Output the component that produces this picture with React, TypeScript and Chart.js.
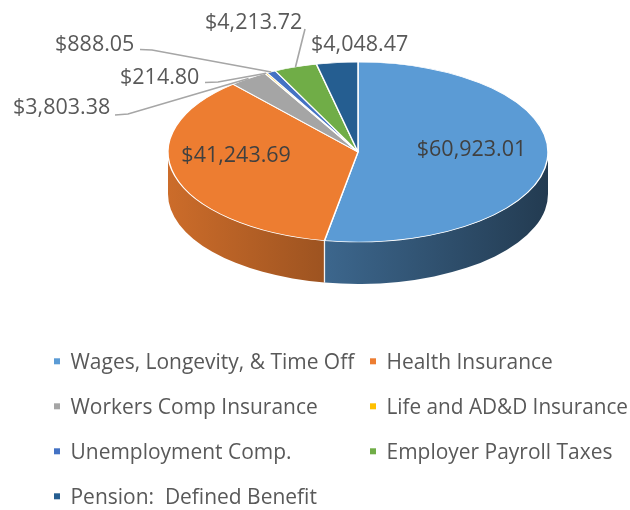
import React, { useEffect, useRef } from "react";
import { Chart, registerables } from "chart.js";

Chart.register(...registerables);

// ---- data ----
const categories = [
  "Wages, Longevity, & Time Off",
  "Health Insurance",
  "Workers Comp Insurance",
  "Life and AD&D Insurance",
  "Unemployment Comp.",
  "Employer Payroll Taxes",
  "Pension:  Defined Benefit",
];
const costs = [60923.01, 41243.69, 3803.38, 214.8, 888.05, 4213.72, 4048.47];
const sliceColors = ["#5B9BD5", "#ED7D31", "#A5A5A5", "#FFC000", "#4472C4", "#70AD47", "#255E91"];

// ---- layout / style ----
const FONT = '"Open Sans", "Noto Sans", sans-serif';
const PIE = { cx: 358, cy: 152, rx: 190, ry: 90, depth: 42 };

type Placement =
  | { kind: "inside"; f: number; dx: number; dy: number }
  | { kind: "outside"; x: number; y: number; leader: number[][] | null };

const placements: Placement[] = [
  { kind: "inside", f: 0.6, dx: 0, dy: -0.5 },
  { kind: "inside", f: 0.6, dx: -12, dy: -4.5 },
  { kind: "outside", x: 13, y: 113.5, leader: [[115, 115], [128, 114]] },
  { kind: "outside", x: 120, y: 83.5, leader: [[205, 82.5], [218, 82]] },
  { kind: "outside", x: 55, y: 51, leader: [[140, 49.5], [152, 50]] },
  { kind: "outside", x: 205, y: 29, leader: [[305, 29]] },
  { kind: "outside", x: 311, y: 51, leader: null },
];

const LEGEND = { cols: [54, 370], row0: 369, gap: 45, textDx: 16.5, marker: 6, condense: 0.975 };

function shade(hex: string, k: number) {
  const n = parseInt(hex.slice(1), 16);
  const r = Math.round(((n >> 16) & 255) * k);
  const g = Math.round(((n >> 8) & 255) * k);
  const b = Math.round((n & 255) * k);
  return `rgb(${r},${g},${b})`;
}

function fmt(v: number) {
  return "$" + v.toLocaleString("en-US", { minimumFractionDigits: 2, maximumFractionDigits: 2 });
}

const pie3d = {
  id: "pie3d",
  beforeDatasetsDraw(chart: any) {
    const ctx: CanvasRenderingContext2D = chart.ctx;
    const arcs = chart.getDatasetMeta(0).data as any[];
    if (!arcs.length) return;
    const { cx, cy, rx, ry, depth } = PIE;
    // side walls
    arcs.forEach((arc, i) => {
      const s = Math.max(arc.startAngle, 0);
      const e = Math.min(arc.endAngle, Math.PI);
      if (e <= s) return;
      const g = ctx.createLinearGradient(cx - rx, 0, cx + rx, 0);
      g.addColorStop(0, shade(sliceColors[i], 0.86));
      g.addColorStop(1, shade(sliceColors[i], 0.38));
      ctx.beginPath();
      ctx.ellipse(cx, cy, rx, ry, 0, s, e);
      ctx.lineTo(cx + rx * Math.cos(e), cy + depth + ry * Math.sin(e));
      ctx.ellipse(cx, cy + depth, rx, ry, 0, e, s, true);
      ctx.closePath();
      ctx.fillStyle = g;
      ctx.fill();
    });
    // seams
    ctx.save();
    ctx.strokeStyle = "rgba(255,255,255,0.9)";
    ctx.lineWidth = 1.3;
    arcs.forEach((arc) => {
      const a = arc.endAngle;
      if (a > 0 && a < Math.PI) {
        const x = cx + rx * Math.cos(a);
        const y = cy + ry * Math.sin(a);
        ctx.beginPath();
        ctx.moveTo(x, y);
        ctx.lineTo(x, y + depth);
        ctx.stroke();
      }
    });
    ctx.restore();
    // project the circular pie onto the ellipse
    const a0 = arcs[0];
    const R = a0.outerRadius;
    ctx.save();
    ctx.translate(cx, cy);
    ctx.scale(rx / R, ry / R);
    ctx.translate(-a0.x, -a0.y);
  },
  afterDatasetsDraw(chart: any) {
    const ctx: CanvasRenderingContext2D = chart.ctx;
    const arcs = chart.getDatasetMeta(0).data as any[];
    if (!arcs.length) return;
    ctx.restore();
    const { cx, cy, rx, ry } = PIE;

    // data labels
    ctx.save();
    ctx.font = `21.5px ${FONT}`;
    ctx.textBaseline = "alphabetic";
    arcs.forEach((arc, i) => {
      const p = placements[i];
      const m = (arc.startAngle + arc.endAngle) / 2;
      const text = fmt(costs[i]);
      if (p.kind === "inside") {
        const x = cx + p.f * rx * Math.cos(m) + p.dx;
        const y = cy + p.f * ry * Math.sin(m) + p.dy;
        ctx.fillStyle = "#404040";
        ctx.textAlign = "center";
        ctx.fillText(text, x, y);
      } else {
        if (p.leader) {
          const ax = cx + rx * Math.cos(m);
          const ay = cy + ry * Math.sin(m);
          ctx.strokeStyle = "#A6A6A6";
          ctx.lineWidth = 1.6;
          ctx.beginPath();
          ctx.moveTo(p.leader[0][0], p.leader[0][1]);
          for (let k = 1; k < p.leader.length; k++) ctx.lineTo(p.leader[k][0], p.leader[k][1]);
          ctx.lineTo(ax, ay);
          ctx.stroke();
        }
        ctx.fillStyle = "#595959";
        ctx.textAlign = "left";
        ctx.fillText(text, p.x, p.y);
      }
    });
    ctx.restore();

    // legend
    ctx.save();
    ctx.font = `21.5px ${FONT}`;
    ctx.textBaseline = "alphabetic";
    ctx.textAlign = "left";
    categories.forEach((label, i) => {
      const row = Math.floor(i / 2);
      const col = i % 2;
      const x = LEGEND.cols[col];
      const base = LEGEND.row0 + row * LEGEND.gap;
      const mid = base - 7.7;
      ctx.fillStyle = sliceColors[i];
      ctx.fillRect(x, mid - LEGEND.marker / 2, LEGEND.marker, LEGEND.marker);
      ctx.fillStyle = "#595959";
      const tx = x + LEGEND.textDx;
      const w = Math.min(ctx.measureText(label).width * LEGEND.condense, 628 - tx);
      ctx.fillText(label, tx, base, w);
    });
    ctx.restore();
  },
};

export default function App() {
  const ref = useRef<HTMLCanvasElement | null>(null);
  useEffect(() => {
    if (!ref.current) return;
    const chart = new Chart(ref.current, {
      type: "pie",
      data: {
        labels: categories,
        datasets: [
          {
            data: costs,
            backgroundColor: sliceColors,
            borderColor: "#ffffff",
            borderWidth: 1.5,
            clip: false as any,
          } as any,
        ],
      },
      options: {
        responsive: false,
        animation: false,
        events: [],
        layout: { padding: { left: 168, right: 82, top: 10, bottom: 120 } },
        plugins: {
          legend: { display: false },
          tooltip: { enabled: false },
          title: { display: false },
        },
      },
      plugins: [pie3d as any],
    });
    return () => chart.destroy();
  }, []);
  return (
    <div style={{ position: "absolute", left: 0, top: 0, width: 630, height: 510, background: "#fff" }}>
      <canvas ref={ref} width={630} height={510} style={{ display: "block" }} />
    </div>
  );
}
